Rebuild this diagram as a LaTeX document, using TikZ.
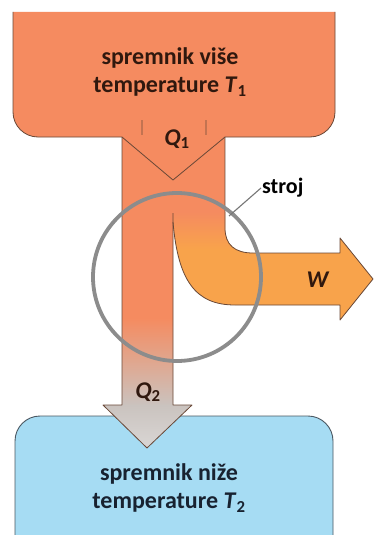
\documentclass[tikz,border=0pt]{standalone}
\usepackage{fontspec}
\setmainfont{Carlito}
\definecolor{hot}{RGB}{245,139,96}
\definecolor{workor}{RGB}{248,163,75}
\definecolor{qgrey}{RGB}{202,195,191}
\definecolor{qlight}{RGB}{218,215,213}
\definecolor{cold}{RGB}{166,220,243}
\definecolor{edgebrown}{RGB}{105,72,55}
\definecolor{edgeslate}{RGB}{75,88,98}
\definecolor{machinegrey}{RGB}{140,140,140}
\definecolor{txtdark}{RGB}{48,24,14}
\definecolor{txtblue}{RGB}{24,34,48}
\begin{document}
\begin{tikzpicture}[x=1pt,y=-1pt,line join=round,
  edge/.style={draw=edgebrown,line width=0.8pt},
  coldedge/.style={draw=edgeslate,line width=0.9pt},
  machine/.style={draw=machinegrey,line width=3.8pt},
  leader/.style={draw=machinegrey!85!black,line width=1.1pt},
  boxtext/.style={font=\fontsize{24}{28}\selectfont\bfseries,align=center,inner sep=0pt},
  qlabel/.style={font=\fontsize{24}{26}\selectfont\bfseries,text=txtdark,inner sep=0pt}]
\useasboundingbox (0,0) rectangle (374,535);
\fill[white] (0,0) rectangle (374,535);
% bottom reservoir
\fill[cold] (15,545) -- (15,441) .. controls (15,427.2) and (26.2,416) .. (40,416) -- (308,416) .. controls (321.8,416) and (333,427.2) .. (333,441) -- (333,545) -- cycle;
\draw[coldedge] (15,545) -- (15,441) .. controls (15,427.2) and (26.2,416) .. (40,416) -- (308,416) .. controls (321.8,416) and (333,427.2) .. (333,441) -- (333,545);
% top reservoir
\fill[hot] (13,12) -- (13,112) .. controls (13,125.8) and (24.2,137) .. (38,137) -- (310,137) .. controls (323.8,137) and (335,125.8) .. (335,112) -- (335,12) -- cycle;
\draw[edge] (13,12) -- (13,112) .. controls (13,125.8) and (24.2,137) .. (38,137) -- (142,137) -- (142,120);
\draw[edge] (206,120) -- (206,137) -- (310,137) .. controls (323.8,137) and (335,125.8) .. (335,112) -- (335,12);
% upper channel
\fill[hot] (172,135) rectangle (225,216);
% work stream
\begin{scope}
\clip (172,212) -- (225,212) -- (225,228) .. controls (225,245) and (235,253) .. (253,253) -- (340,253) -- (340,238) -- (373,279) -- (340,320) -- (340,305) -- (235,305) .. controls (195,305) and (178,280) .. (173,222) -- cycle;
\fill[workor] (165,205) rectangle (380,330);
\shade[top color=hot,bottom color=workor] (165,212) rectangle (256,249);
\end{scope}
% rejected heat stream
\begin{scope}
\clip (122,135) -- (122,405) -- (103,405) -- (147,448) -- (192,405) -- (173,405) -- (173,135) -- cycle;
\fill[hot] (100,130) rectangle (200,318);
\shade[top color=hot,bottom color=qgrey] (100,318) rectangle (200,406);
\shade[top color=qgrey,bottom color=qlight] (100,405) rectangle (200,450);
\end{scope}
% outlines
\draw[edge] (122,137) -- (173,180) -- (225,137);
\draw[edge] (122,137) -- (122,405) -- (103,405) -- (147,448) -- (192,405) -- (173,405) -- (173,213);
\draw[edge] (173,222) .. controls (178,280) and (195,305) .. (235,305) -- (340,305) -- (340,320) -- (373,279) -- (340,238) -- (340,253) -- (253,253) .. controls (235,253) and (225,245) .. (225,228) -- (225,137);
% machine
\draw[machine] (177,277) circle[radius=84];
\coordinate (lead) at (229,216);
\node[font=\fontsize{22}{24}\selectfont\bfseries,text=black,anchor=west,inner sep=1pt] (stroj) at (261,188) {stroj};
\draw[leader] (lead) -- (stroj.west);
% labels
\node[boxtext,text=txtdark] (hotlabel) at (170,72) {spremnik više\\temperature \textit{T}\textsubscript{1}};
\node[boxtext,text=txtblue] (coldlabel) at (169,488) {spremnik niže\\temperature \textit{T}\textsubscript{2}};
\node[qlabel] (q1) at (177,139) {\textit{Q}\textsubscript{1}};
\node[qlabel] (q2) at (148,392) {\textit{Q}\textsubscript{2}};
\node[qlabel] (w) at (318,280) {\textit{W}};
\end{tikzpicture}
\end{document}
